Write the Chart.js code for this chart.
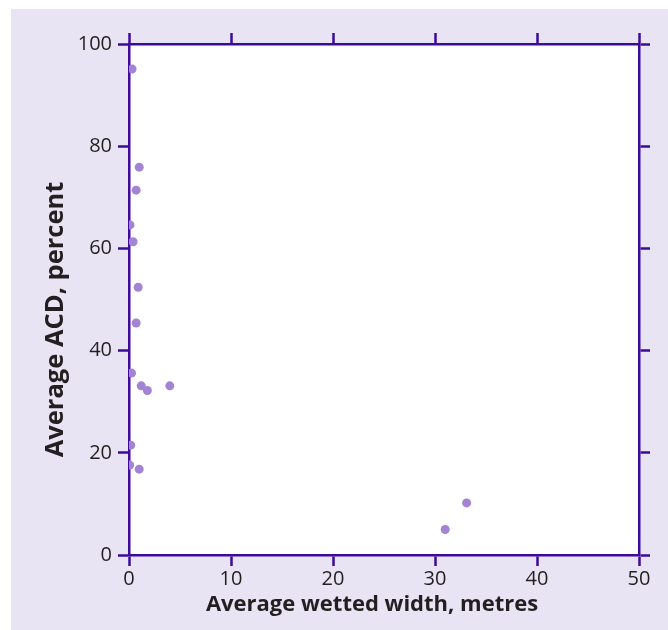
<!DOCTYPE html>
<html>
<head>
<meta charset="utf-8">
<script src="https://cdn.jsdelivr.net/npm/chart.js@4"></script>
<style>
  body { margin: 0; background: #ffffff; }
  #wrap { position: absolute; left: 11px; top: 9px; width: 657px; height: 621px; background: #e8e4f4; }
</style>
</head>
<body>
<div id="wrap"><canvas id="acdChart" width="657" height="621"></canvas></div>
<script>
// average wetted width (m) and average ACD (%) per site
var widthMetres = [0.3, 1.0, 0.7, 0.1, 0.4, 0.9, 0.7, 0.25, 1.2, 1.8, 4.0, 0.17, 0.07, 1.0, 31.0, 33.1];
var acdPercent = [95.1, 75.9, 71.4, 64.6, 61.3, 52.4, 45.4, 35.6, 33.1, 32.2, 33.1, 21.5, 17.6, 16.8, 5.0, 10.2];
var xTicks = [0, 10, 20, 30, 40, 50];
var yTicks = [0, 20, 40, 60, 80, 100];
var xTitle = 'Average wetted width, metres';
var yTitle = 'Average ACD, percent';

var axisColor = '#3d0a9c';
var textColor = '#231f20';
var fontFamily = "'Open Sans', 'DejaVu Sans', sans-serif";

var points = widthMetres.map(function (w, i) {
    return { x: w, y: acdPercent[i] };
});

function fixedTicks(values) {
    return function (scale) {
        scale.ticks = values.map(function (v) { return { value: v }; });
    };
}

function gridOpts() {
    return {
        drawOnChartArea: false,
        drawTicks: true,
        tickLength: 11,
        tickWidth: 2.5,
        tickColor: axisColor,
        color: axisColor
    };
}

// white plot panel + axis titles (titles sit a little off-centre in the original)
var panelPlugin = {
    id: 'panel',
    beforeDraw: function (c) {
        var a = c.chartArea;
        c.ctx.save();
        c.ctx.fillStyle = '#ffffff';
        c.ctx.fillRect(a.left, a.top, a.right - a.left, a.bottom - a.top);
        c.ctx.restore();
    },
    afterDraw: function (c) {
        var a = c.chartArea;
        var g = c.ctx;
        g.save();
        g.fillStyle = textColor;
        g.textAlign = 'center';
        g.textBaseline = 'middle';
        g.font = 'bold 22px ' + fontFamily;
        g.fillText(xTitle, (a.left + a.right) / 2 - 12, c.height - 25);
        g.translate(45, (a.top + a.bottom) / 2 + 20);
        g.rotate(-Math.PI / 2);
        g.font = 'bold 25.5px ' + fontFamily;
        g.fillText(yTitle, 0, 0);
        g.restore();
    }
};

document.addEventListener("DOMContentLoaded", function () {
    var ctx = document.getElementById('acdChart').getContext('2d');
    var chart = new Chart(ctx, {
        type: 'scatter',
        data: {
            datasets: [{
                data: points,
                backgroundColor: '#a383d3',
                borderColor: '#a383d3',
                pointRadius: 4.5,
                pointBorderWidth: 0
            }]
        },
        plugins: [panelPlugin],
        options: {
            responsive: false,
            animation: false,
            layout: { padding: 0 },
            plugins: { legend: { display: false }, tooltip: { enabled: false } },
            scales: {
                x: {
                    type: 'linear',
                    position: 'bottom',
                    min: 0, max: 50,
                    afterBuildTicks: fixedTicks(xTicks),
                    afterFit: function (s) { s.height = 75; },
                    grid: gridOpts(),
                    border: { display: true, color: axisColor, width: 2.5 },
                    ticks: { color: textColor, padding: 1, font: { family: fontFamily, size: 20 } }
                },
                x2: {
                    type: 'linear',
                    position: 'top',
                    min: 0, max: 50,
                    afterBuildTicks: fixedTicks(xTicks),
                    afterFit: function (s) { s.height = 35; },
                    grid: gridOpts(),
                    border: { display: true, color: axisColor, width: 2.5 },
                    ticks: { display: false }
                },
                y: {
                    type: 'linear',
                    position: 'left',
                    min: 0, max: 100,
                    afterBuildTicks: fixedTicks(yTicks),
                    afterFit: function (s) { s.width = 118; },
                    grid: gridOpts(),
                    border: { display: true, color: axisColor, width: 2.5 },
                    ticks: { color: textColor, padding: 6, font: { family: fontFamily, size: 20 } }
                },
                y2: {
                    type: 'linear',
                    position: 'right',
                    min: 0, max: 100,
                    afterBuildTicks: fixedTicks(yTicks),
                    afterFit: function (s) { s.width = 29; },
                    grid: gridOpts(),
                    border: { display: true, color: axisColor, width: 2.5 },
                    ticks: { display: false }
                }
            }
        }
    });
});
</script>
</body>
</html>
